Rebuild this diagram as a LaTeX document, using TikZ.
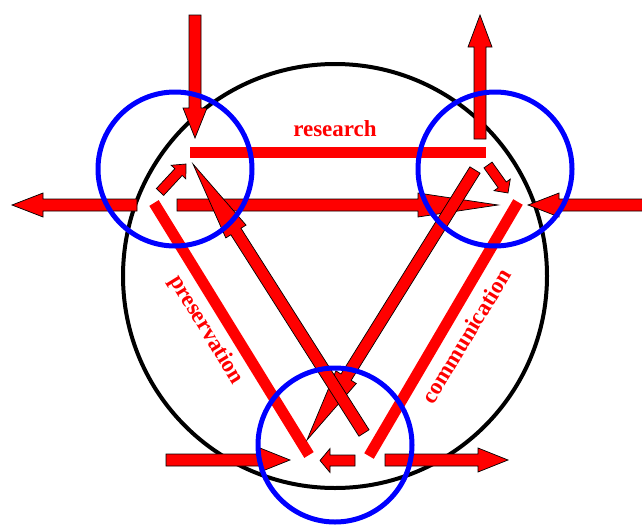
\documentclass[tikz,border=0pt]{standalone}
\usepackage{fontspec}
\setmainfont{Liberation Serif}
\usetikzlibrary{calc}
\tikzset{
  redbar/.style={draw=red, line width=11pt},
  blockarrow/.style={fill=red, draw=black, line width=0.7pt, line join=miter},
  bluering/.style={draw=blue, line width=5pt},
  bigring/.style={draw=black, line width=4pt},
  lbl/.style={text=red, font=\bfseries\fontsize{23}{26}\selectfont, inner sep=0pt}
}
% from, to, half shaft width, half head width, head length
\newcommand\blockarr[5]{%
  \draw[blockarrow] ($(#1)!#3!90:(#2)$)
    -- ($(#2)!#5!(#1) + (#1)!#3!90:(#2) - (#1)$)
    -- ($(#2)!#5!(#1) + (#1)!#4!90:(#2) - (#1)$)
    -- (#2)
    -- ($(#2)!#5!(#1) + (#1)!#4!-90:(#2) - (#1)$)
    -- ($(#2)!#5!(#1) + (#1)!#3!-90:(#2) - (#1)$)
    -- ($(#1)!#3!-90:(#2)$) -- cycle;}
\begin{document}
\begin{tikzpicture}[x=1pt,y=-1pt]
\useasboundingbox[fill=white] (0,0) rectangle (642,525);
% centres
\coordinate (C) at (335,276);
\coordinate (R) at (175,169);
\coordinate (Q) at (495,169);
\coordinate (B) at (335,445);
% big circle
\draw[bigring] (C) circle[radius=212];
% bars
\coordinate (r1) at (190,152); \coordinate (r2) at (486,152);
\coordinate (p1) at (154,203); \coordinate (p2) at (309,455);
\coordinate (c1) at (518,202); \coordinate (c2) at (369,456);
\draw[redbar] (r1) -- (r2);
\draw[redbar] (p1) -- (p2);
\draw[redbar] (c1) -- (c2);
\node[lbl, anchor=base] (tres) at (335,136) {research};
\node[lbl, rotate=-58.5] (tpres) at (206,330) {preservation};
\node[lbl, rotate=58.8] (tcom) at (466,336) {communication};
% arrow end points
\coordinate (a1s) at (195,15);  \coordinate (a1e) at (195,138);
\coordinate (a2s) at (480,139); \coordinate (a2e) at (480,15);
\coordinate (a3s) at (137,205); \coordinate (a3e) at (12,205);
\coordinate (a4s) at (177,205); \coordinate (a4e) at (498,205);
\coordinate (a5s) at (646,205); \coordinate (a5e) at (528,205);
\coordinate (a6s) at (166,460); \coordinate (a6e) at (290,460);
\coordinate (a7s) at (385,460); \coordinate (a7e) at (508,460);
\coordinate (a8s) at (355,460.5); \coordinate (a8e) at (320,460.5);
\coordinate (a9s) at (160,192); \coordinate (a9e) at (186,164);
\coordinate (a10s) at (488,165); \coordinate (a10e) at (508,193);
\coordinate (d1s) at (475,170); \coordinate (d1e) at (307,440);
\coordinate (d2s) at (364,433); \coordinate (d2e) at (193,164);
% arrows
\blockarr{a1s}{a1e}{6pt}{12pt}{30pt}
\blockarr{a2s}{a2e}{6pt}{12pt}{32pt}
\blockarr{a3s}{a3e}{6pt}{12pt}{31pt}
\blockarr{a4s}{a4e}{6pt}{12pt}{80pt}
\blockarr{a5s}{a5e}{6pt}{12pt}{31pt}
\blockarr{a6s}{a6e}{6pt}{12pt}{30pt}
\blockarr{a7s}{a7e}{6pt}{12pt}{30pt}
\blockarr{a8s}{a8e}{5.5pt}{12pt}{10pt}
\blockarr{a9s}{a9e}{5pt}{10pt}{11pt}
\blockarr{a10s}{a10e}{5pt}{10pt}{10pt}
\blockarr{d1s}{d1e}{6pt}{12pt}{74pt}
\blockarr{d2s}{d2e}{6pt}{12pt}{80pt}
% blue rings
\draw[bluering] (R) circle[radius=77];
\draw[bluering] (Q) circle[radius=77];
\draw[bluering] (B) circle[radius=77];
\end{tikzpicture}
\end{document}
